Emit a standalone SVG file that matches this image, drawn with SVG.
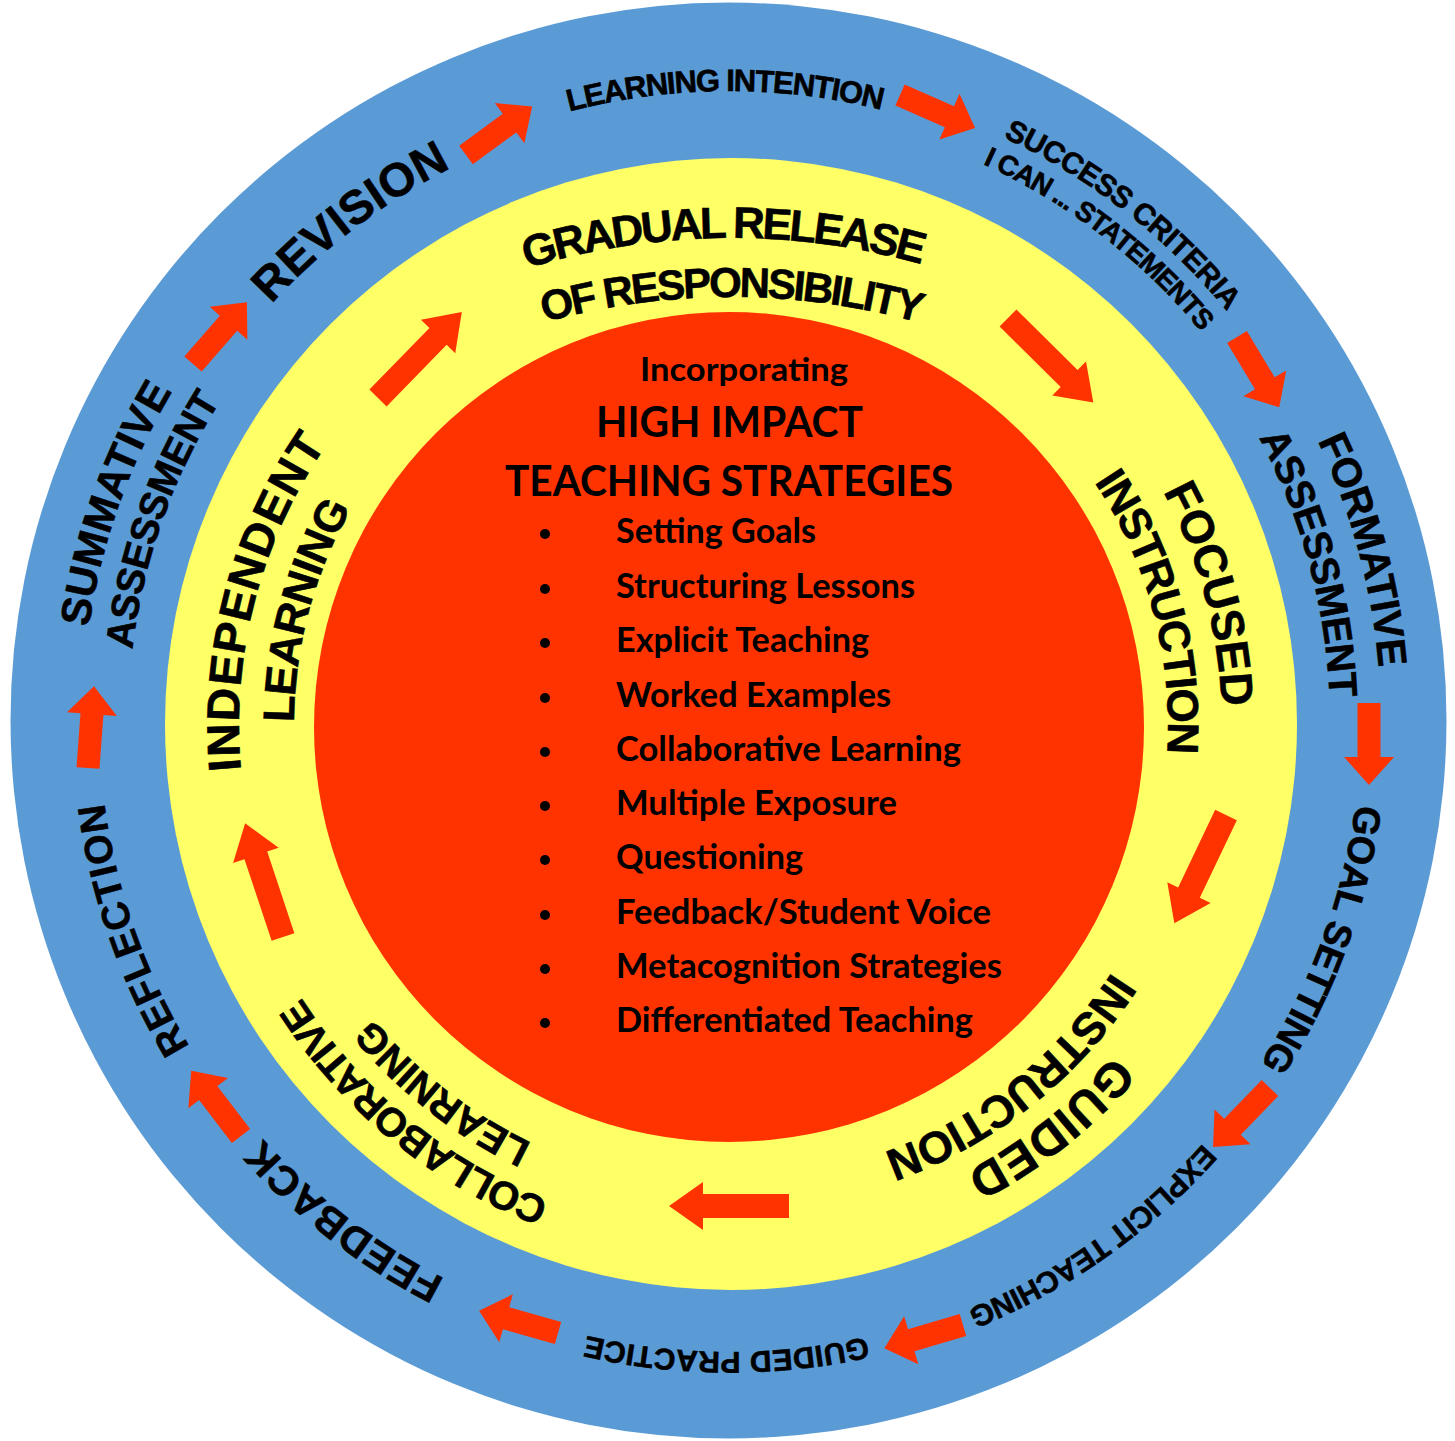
<svg xmlns="http://www.w3.org/2000/svg" width="1455" height="1441" viewBox="0 0 1455 1441">
<style>
.ring{font-family:"Liberation Sans",Arial,sans-serif;font-weight:bold;fill:#000;stroke:#000;stroke-width:0.6;text-anchor:middle}
.ctr{font-family:Lato,"Noto Sans",sans-serif;font-weight:bold;fill:#000}
.arrow{fill:#FF3300}
.dot{fill:#000}
</style>
<defs>
<path id="r601" d="M-598.71,-52.38 A601,601 0 0 1 598.71,-52.38"/>
<path id="r612" d="M-609.67,-53.34 A612,612 0 0 1 609.67,-53.34"/>
<path id="r619" d="M-616.64,-53.95 A619,619 0 0 1 616.64,-53.95"/>
<path id="r626" d="M-623.62,-54.56 A626,626 0 0 1 623.62,-54.56"/>
<path id="r630" d="M-627.60,-54.91 A630,630 0 0 1 627.60,-54.91"/>
<path id="r631" d="M-628.60,-55.00 A631,631 0 0 1 628.60,-55.00"/>
<path id="r632" d="M-629.60,-55.08 A632,632 0 0 1 629.60,-55.08"/>
<path id="r635" d="M-632.58,-55.34 A635,635 0 0 1 632.58,-55.34"/>
<path id="r645" d="M-642.55,-56.22 A645,645 0 0 1 642.55,-56.22"/>
<path id="r647" d="M-644.54,-56.39 A647,647 0 0 1 644.54,-56.39"/>
<path id="r652" d="M-649.52,-56.83 A652,652 0 0 1 649.52,-56.83"/>
<path id="r700" d="M-697.34,-61.01 A700,700 0 0 1 697.34,-61.01"/>
<path id="r437" d="M-435.34,-38.09 A437,437 0 0 1 435.34,-38.09"/>
<path id="r454" d="M-452.27,-39.57 A454,454 0 0 1 452.27,-39.57"/>
<path id="r463" d="M-461.24,-40.35 A463,463 0 0 1 461.24,-40.35"/>
<path id="r491" d="M-489.13,-42.79 A491,491 0 0 1 489.13,-42.79"/>
<path id="r492" d="M-490.13,-42.88 A492,492 0 0 1 490.13,-42.88"/>
<path id="r505" d="M-503.08,-44.01 A505,505 0 0 1 503.08,-44.01"/>
<path id="r509" d="M-507.06,-44.36 A509,509 0 0 1 507.06,-44.36"/>
<path id="arO" d="M0,-11.5 H54 V-25 L82,0 L54,25 V11.5 H0 Z"/>
<path id="arI" d="M0,-12 H86 V-24 L120,0 L86,24 V12 H0 Z"/>
</defs>

<g id="rings">
<circle id="outer-ring" cx="728.5" cy="720.5" r="718" fill="#5B9BD5"/>
<circle id="middle-ring" cx="731" cy="724" r="566" fill="#FFFF66"/>
<circle id="core" cx="729" cy="727" r="415" fill="#FF3300"/>
</g>

<g id="connectors">
<use href="#arO" class="arrow" transform="translate(466,155) rotate(-36.2)"/>
<use href="#arO" class="arrow" transform="translate(900,95) rotate(23.7)"/>
<use href="#arO" class="arrow" transform="translate(1237,337) rotate(59)"/>
<use href="#arO" class="arrow" transform="translate(1369,703) rotate(90)"/>
<use href="#arO" class="arrow" transform="translate(1270,1088) rotate(134)"/>
<use href="#arO" class="arrow" transform="translate(963,1325) rotate(163.6)"/>
<use href="#arO" class="arrow" transform="translate(558,1333) rotate(195.8)"/>
<use href="#arO" class="arrow" transform="translate(241,1136) rotate(232.6)"/>
<use href="#arO" class="arrow" transform="translate(88,768) rotate(-85.8)"/>
<use href="#arO" class="arrow" transform="translate(193,364) rotate(-48.9)"/>
<use href="#arI" class="arrow" transform="translate(378,398) rotate(-45.7)"/>
<use href="#arI" class="arrow" transform="translate(1008,318) rotate(44.7)"/>
<use href="#arI" class="arrow" transform="translate(1226,815) rotate(115.5)"/>
<use href="#arI" class="arrow" transform="translate(789,1206) rotate(180)"/>
<use href="#arI" class="arrow" transform="translate(283,937) rotate(251.6)"/>
</g>

<g id="learning-intention"><text class="ring" font-size="31" letter-spacing="-1.3" transform="translate(729,721) rotate(-0.4)"><textPath href="#r630" startOffset="50%">LEARNING INTENTION</textPath></text></g>
<g id="success-criteria">
<text class="ring" font-size="30" letter-spacing="-0.6" transform="translate(729,721) rotate(37.85)"><textPath href="#r645" startOffset="50%">SUCCESS CRITERIA</textPath></text>
<text class="ring" font-size="28" letter-spacing="-1.2" transform="translate(729,721) rotate(37.45)"><textPath href="#r612" startOffset="50%">I CAN ... STATEMENTS</textPath></text>
</g>
<g id="formative-assessment">
<text class="ring" font-size="41" letter-spacing="-0.3" transform="translate(729,721) rotate(74.9)"><textPath href="#r652" startOffset="50%">FORMATIVE</textPath></text>
<text class="ring" font-size="40" letter-spacing="-0.4" transform="translate(729,721) rotate(74.8)"><textPath href="#r601" startOffset="50%">ASSESSMENT</textPath></text>
</g>
<g id="goal-setting"><text class="ring" font-size="38" letter-spacing="-0.5" transform="translate(729,721) rotate(110.2)"><textPath href="#r632" startOffset="50%">GOAL SETTING</textPath></text></g>
<g id="explicit-teaching"><text class="ring" font-size="30" letter-spacing="-0.6" transform="translate(729,721) rotate(144.8)"><textPath href="#r635" startOffset="50%">EXPLICIT TEACHING</textPath></text></g>
<g id="guided-practice"><text class="ring" font-size="30" letter-spacing="0.3" transform="translate(729,721) rotate(180.25)"><textPath href="#r631" startOffset="50%">GUIDED PRACTICE</textPath></text></g>
<g id="feedback"><text class="ring" font-size="41" letter-spacing="0.5" transform="translate(729,721) rotate(217.6)"><textPath href="#r626" startOffset="50%">FEEDBACK</textPath></text></g>
<g id="reflection"><text class="ring" font-size="39" letter-spacing="1.2" transform="translate(729,721) rotate(250.75)"><textPath href="#r630" startOffset="50%">REFLECTION</textPath></text></g>
<g id="summative-assessment">
<text class="ring" font-size="42" letter-spacing="0.4" transform="translate(729,721) rotate(289.5)"><textPath href="#r647" startOffset="50%">SUMMATIVE</textPath></text>
<text class="ring" font-size="39" letter-spacing="-0.3" transform="translate(729,721) rotate(289.5)"><textPath href="#r601" startOffset="50%">ASSESSMENT</textPath></text>
</g>
<g id="revision"><text class="ring" font-size="47" letter-spacing="0.3" transform="translate(729,721) rotate(322.85)"><textPath href="#r619" startOffset="50%">REVISION</textPath></text></g>

<g id="gradual-release">
<text class="ring" font-size="44" letter-spacing="-2.8" transform="translate(731,938) rotate(-0.7)"><textPath href="#r700" startOffset="50%">GRADUAL RELEASE</textPath></text>
<text class="ring" font-size="42" letter-spacing="-2.5" transform="translate(731,997)"><textPath href="#r700" startOffset="50%">OF RESPONSIBILITY</textPath></text>
</g>
<g id="focused-instruction">
<text class="ring" font-size="46" transform="translate(731,725) rotate(74.75)"><textPath href="#r491" startOffset="50%">FOCUSED</textPath></text>
<text class="ring" font-size="44" letter-spacing="-1.4" transform="translate(731,725) rotate(74.9)"><textPath href="#r437" startOffset="50%">INSTRUCTION</textPath></text>
</g>
<g id="guided-instruction">
<text class="ring" font-size="48" letter-spacing="0.6" transform="translate(731,725) rotate(141.6)"><textPath href="#r505" startOffset="50%">GUIDED</textPath></text>
<text class="ring" font-size="45" letter-spacing="-1.1" transform="translate(731,725) rotate(141.6)"><textPath href="#r454" startOffset="50%">INSTRUCTION</textPath></text>
</g>
<g id="collaborative-learning">
<text class="ring" font-size="40" letter-spacing="-1.3" transform="translate(731,725) rotate(219.2)"><textPath href="#r509" startOffset="50%">COLLABORATIVE</textPath></text>
<text class="ring" font-size="40" letter-spacing="-0.7" transform="translate(731,725) rotate(218)"><textPath href="#r463" startOffset="50%">LEARNING</textPath></text>
</g>
<g id="independent-learning">
<text class="ring" font-size="46" letter-spacing="1.3" transform="translate(731,725) rotate(284.75)"><textPath href="#r492" startOffset="50%">INDEPENDENT</textPath></text>
<text class="ring" font-size="44" letter-spacing="-0.7" transform="translate(731,725) rotate(285)"><textPath href="#r437" startOffset="50%">LEARNING</textPath></text>
</g>

<g id="strategies">
<text class="ctr" x="744" y="381" font-size="32" text-anchor="middle" textLength="208" lengthAdjust="spacingAndGlyphs">Incorporating</text>
<text class="ctr" x="729.5" y="437" font-size="42" text-anchor="middle" textLength="267" lengthAdjust="spacingAndGlyphs">HIGH IMPACT</text>
<text class="ctr" x="729" y="496" font-size="42" text-anchor="middle" textLength="448" lengthAdjust="spacingAndGlyphs">TEACHING STRATEGIES</text>
<circle class="dot" cx="545" cy="534" r="5"/>
<circle class="dot" cx="545" cy="589" r="5"/>
<circle class="dot" cx="545" cy="643" r="5"/>
<circle class="dot" cx="545" cy="698" r="5"/>
<circle class="dot" cx="545" cy="752" r="5"/>
<circle class="dot" cx="545" cy="806" r="5"/>
<circle class="dot" cx="545" cy="860" r="5"/>
<circle class="dot" cx="545" cy="915" r="5"/>
<circle class="dot" cx="545" cy="969" r="5"/>
<circle class="dot" cx="545" cy="1023" r="5"/>
<text class="ctr" x="616" y="543" font-size="34" textLength="200" lengthAdjust="spacingAndGlyphs">Setting Goals</text>
<text class="ctr" x="616" y="598" font-size="34" textLength="299" lengthAdjust="spacingAndGlyphs">Structuring Lessons</text>
<text class="ctr" x="616" y="652" font-size="34" textLength="253" lengthAdjust="spacingAndGlyphs">Explicit Teaching</text>
<text class="ctr" x="616" y="707" font-size="34" textLength="275" lengthAdjust="spacingAndGlyphs">Worked Examples</text>
<text class="ctr" x="616" y="761" font-size="34" textLength="345" lengthAdjust="spacingAndGlyphs">Collaborative Learning</text>
<text class="ctr" x="616" y="815" font-size="34" textLength="281" lengthAdjust="spacingAndGlyphs">Multiple Exposure</text>
<text class="ctr" x="616" y="869" font-size="34" textLength="187" lengthAdjust="spacingAndGlyphs">Questioning</text>
<text class="ctr" x="616" y="924" font-size="34" textLength="375" lengthAdjust="spacingAndGlyphs">Feedback/Student Voice</text>
<text class="ctr" x="616" y="978" font-size="34" textLength="386" lengthAdjust="spacingAndGlyphs">Metacognition Strategies</text>
<text class="ctr" x="616" y="1032" font-size="34" textLength="357" lengthAdjust="spacingAndGlyphs">Differentiated Teaching</text>
</g>
</svg>
